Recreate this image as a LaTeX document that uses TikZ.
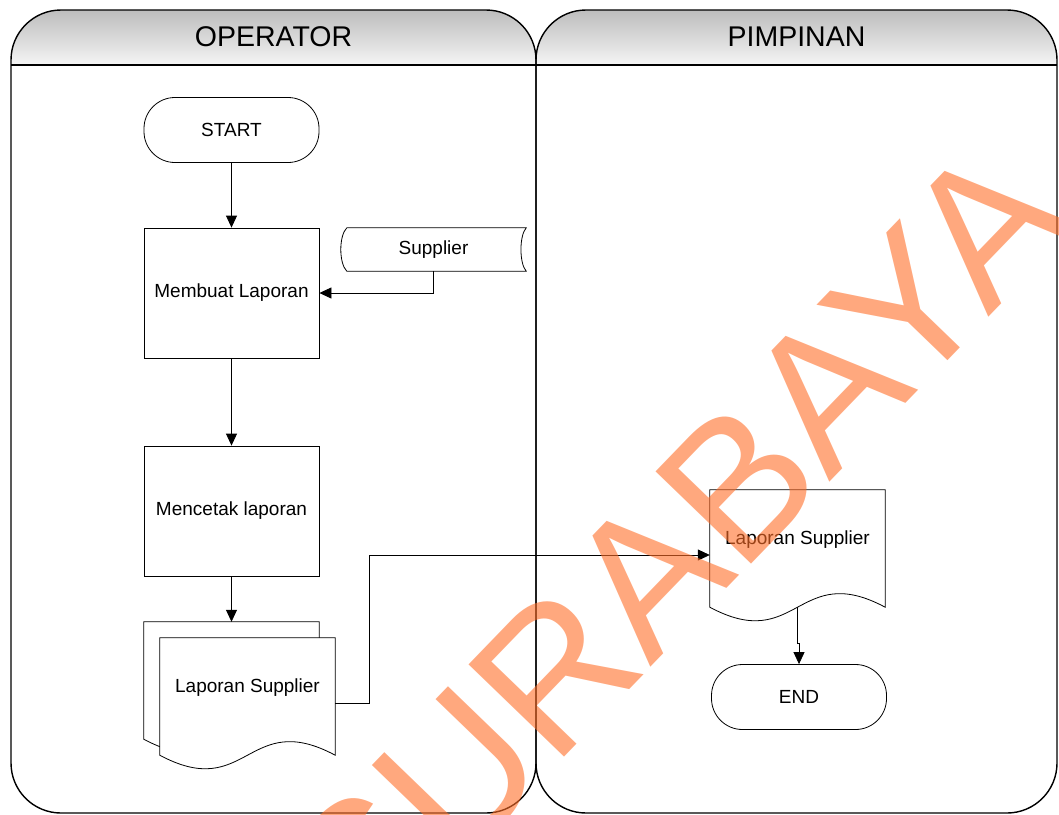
\documentclass[tikz,border=0pt]{standalone}
\usepackage{fontspec}
\setmainfont{Liberation Sans}
\usepackage{tikz}
\usetikzlibrary{calc}
\usetikzlibrary{arrows.meta}

\definecolor{wmark}{RGB}{255,110,40}

\begin{document}
\begin{tikzpicture}[x=1pt,y=-1pt,
	every node/.style={font=\fontsize{19}{22}\selectfont,inner sep=0pt},
	proc/.style={draw,line width=0.8pt,minimum width=175pt,minimum height=130pt},
	term/.style={draw,line width=0.8pt,rounded corners=31pt,minimum width=175pt,minimum height=65pt},
	docbox/.style={minimum width=175pt,minimum height=130pt},
	arr/.style={line width=0.8pt,-{Triangle[length=12pt,width=11pt]}},
	lane/.style={line width=1.4pt,rounded corners=50pt}]
	\useasboundingbox (0,0) rectangle (1059,814);

	% lanes
	\begin{scope}
		\clip[rounded corners=50pt] (11,10) rectangle (536,813);
		\shade[top color=black!26,bottom color=black!4] (11,10) rectangle (536,65);
	\end{scope}
	\begin{scope}
		\clip[rounded corners=50pt] (536,10) rectangle (1057,813);
		\shade[top color=black!26,bottom color=black!4] (536,10) rectangle (1057,65);
	\end{scope}
	\draw[lane] (11,10) rectangle (536,813);
	\draw[lane] (536,10) rectangle (1057,813);
	\draw[line width=1.4pt] (11,65) -- (1057,65);
	\node[font=\fontsize{28.5}{32}\selectfont] (oper) at (273.5,37) {OPERATOR};
	\node[font=\fontsize{28.5}{32}\selectfont] (pimp) at (796.5,37) {PIMPINAN};

	% operator
	\node[term] (start) at (231.5,130) {START};
	\node[proc] (buat) at (231.5,293) {Membuat Laporan};
	\node[proc] (cetak) at (231.5,511) {Mencetak laporan};
	\node[minimum width=185pt,minimum height=43pt] (supp) at (433.5,249.5) {Supplier};
	\draw[line width=0.8pt] ($(supp.north west)+(6,0)$) -- (supp.north east)
		.. controls ($(supp.north east)+(-7,8)$) and ($(supp.south east)+(-7,-8)$) .. (supp.south east)
		-- ($(supp.south west)+(6,0)$)
		.. controls ($(supp.south west)+(-2,-8)$) and ($(supp.north west)+(-2,8)$) .. ($(supp.north west)+(6,0)$);

	\node[docbox] (lapAb) at (231.5,687) {};
	\node[docbox] (lapA) at (247.5,703) {};
	\draw[line width=0.8pt,fill=white] (lapAb.north west) -- (lapAb.north east) -- ($(lapAb.south east)+(0,-13)$)
		.. controls ($(lapAb.south)+(0,-60)$) and ($(lapAb.south)+(0,34)$) .. ($(lapAb.south west)+(0,-13)$) -- cycle;
	\draw[line width=0.8pt,fill=white] (lapA.north west) -- (lapA.north east) -- ($(lapA.south east)+(0,-13)$)
		.. controls ($(lapA.south)+(0,-60)$) and ($(lapA.south)+(0,34)$) .. ($(lapA.south west)+(0,-13)$) -- cycle;
	\node (lapAtxt) at ($(lapA)+(0,-15)$) {Laporan Supplier};

	% pimpinan
	\node[docbox] (lapB) at (797.5,555) {};
	\draw[line width=0.8pt,fill=white] (lapB.north west) -- (lapB.north east) -- ($(lapB.south east)+(0,-13)$)
		.. controls ($(lapB.south)+(0,-60)$) and ($(lapB.south)+(0,34)$) .. ($(lapB.south west)+(0,-13)$) -- cycle;
	\node (lapBtxt) at ($(lapB)+(0,-15)$) {Laporan Supplier};
	\node[term] (fin) at (799,697) {END};

	% arrows
	\draw[arr] (start) -- (buat);
	\draw[arr] (supp.south) |- (buat.east);
	\draw[arr] (buat) -- (cetak);
	\draw[arr] (cetak.south) -- (lapAb.north);
	\draw[arr] (lapA.east) -- ++(34,0) |- (lapB.west);
	\draw[arr] ($(lapB.south)+(0,-13)$) -- ++(0,36) -| (fin.north);

	% watermark
	\begin{scope}
		\clip (0,0) rectangle (1059,814);
		\node[rotate=46,text=wmark,text opacity=0.6,font=\fontsize{193}{200}\selectfont] (wm) at (675,547) {SURABAYA};
	\end{scope}
\end{tikzpicture}
\end{document}
